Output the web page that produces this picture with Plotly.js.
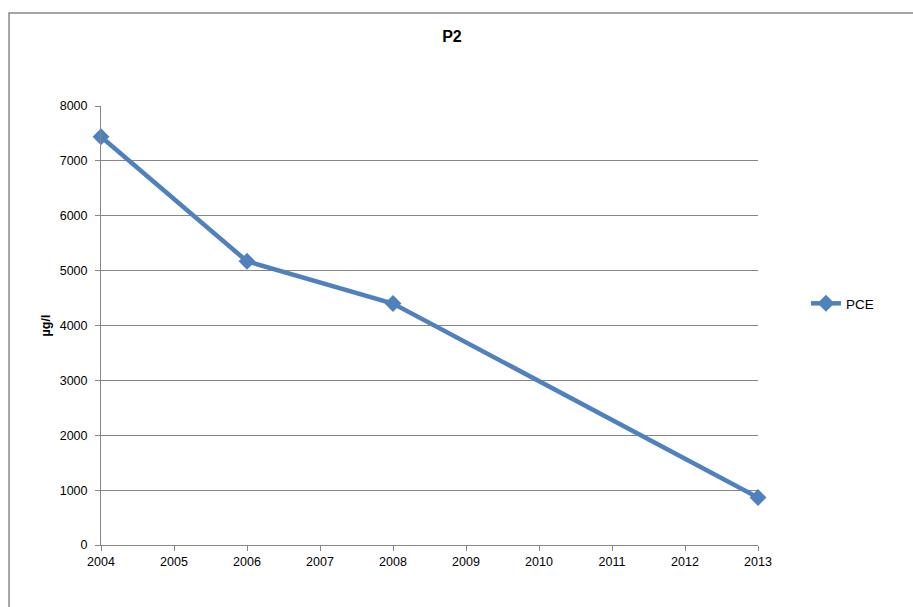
<!DOCTYPE html>
<html>
<head>
<meta charset="utf-8">
<script src="https://cdn.plot.ly/plotly-3.0.1.min.js"></script>
<style>
  html, body { margin: 0; padding: 0; background: #fff; }
  #chart { width: 913px; height: 607px; }
</style>
</head>
<body>
<div id="chart"></div>
<script>
// PCE concentration at well P2
const years = [2004, 2006, 2008, 2013];
const pce = [7440, 5170, 4400, 865];
const yearTicks = [2004, 2005, 2006, 2007, 2008, 2009, 2010, 2011, 2012, 2013];
const valueTicks = [0, 1000, 2000, 3000, 4000, 5000, 6000, 7000, 8000];

const trace = {
  x: years,
  y: pce,
  name: 'PCE',
  type: 'scatter',
  mode: 'lines+markers',
  line: { color: '#4F81BD', width: 4.5 },
  marker: { symbol: 'diamond', size: 13, color: '#4F81BD' },
  cliponaxis: false
};

const font = { family: 'Liberation Sans, Arial, sans-serif', size: 12.5, color: '#000' };

const layout = {
  width: 913,
  height: 607,
  margin: { l: 101, r: 155, t: 105.5, b: 62 },
  paper_bgcolor: '#fff',
  plot_bgcolor: '#fff',
  font: font,
  showlegend: true,
  title: {
    text: '<b>P2</b>',
    font: { family: font.family, size: 16, color: '#000' },
    x: 0.495, xanchor: 'center',
    y: 0.94, yanchor: 'middle'
  },
  xaxis: {
    range: [2004, 2013],
    tickvals: yearTicks,
    ticks: 'outside', ticklen: 5, tickcolor: '#868686',
    showline: true, linecolor: '#868686', linewidth: 1,
    showgrid: false, zeroline: false,
    tickfont: font
  },
  yaxis: {
    range: [0, 8000],
    tickvals: valueTicks,
    ticks: 'outside', ticklen: 5, tickcolor: '#868686',
    showline: true, linecolor: '#868686', linewidth: 1,
    showgrid: true, gridcolor: '#868686', gridwidth: 1,
    zeroline: false,
    ticklabelstandoff: 5,
    tickfont: font,
    title: { text: '<b>µg/l</b>', font: font, standoff: 6 }
  },
  legend: {
    x: 1.073, xanchor: 'left',
    y: 0.55, yanchor: 'middle',
    font: { family: font.family, size: 13.5, color: '#000' },
    bgcolor: 'rgba(0,0,0,0)'
  },
  shapes: [{
    type: 'rect', xref: 'paper', yref: 'paper',
    x0: -0.14, x1: 2, y0: -1, y1: 1.2116,
    line: { color: '#888', width: 1.5 },
    fillcolor: 'rgba(0,0,0,0)'
  }]
};

Plotly.newPlot('chart', [trace], layout, { displayModeBar: false, staticPlot: true });
</script>
</body>
</html>
